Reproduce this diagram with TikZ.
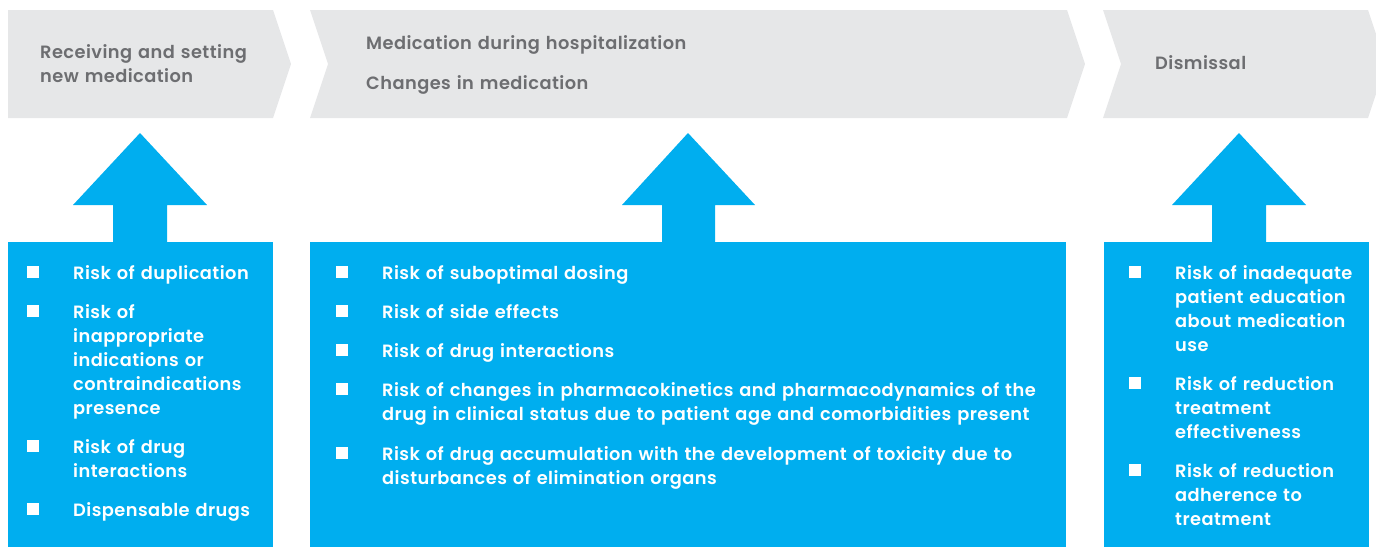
\documentclass[tikz,border=0pt]{standalone}
\usepackage{fontspec}
\setmainfont{Poppins}[UprightFont=* SemiBold, BoldFont=* Bold, LetterSpace=2.5]
\usetikzlibrary{positioning}
\definecolor{riskblue}{HTML}{00AEEF}
\definecolor{stagegray}{HTML}{E6E7E8}
\definecolor{stagetext}{HTML}{6D6E71}
\tikzset{
  stage/.style={fill=stagegray},
  riskbox/.style={fill=riskblue},
  stagelabel/.style={anchor=base west, inner sep=0pt, text=stagetext,
    font=\fontsize{17.8}{24}\selectfont, text width=330pt, align=left},
  risklabel/.style={anchor=base west, inner sep=0pt, text=white,
    font=\fontsize{17.8}{24}\selectfont, text width=700pt, align=left},
  bullet/.style={fill=white, inner sep=0pt, minimum size=12pt, anchor=south west}
}
\begin{document}
\begin{tikzpicture}[x=1pt,y=-1pt]
\useasboundingbox (0,0) rectangle (1376,547);
% stages
\fill[stage] (8,10) -- (273,10) -- (291,64) -- (273,118) -- (8,118) -- cycle;
\fill[stage] (310,10) -- (1067,10) -- (1085,64) -- (1067,118) -- (310,118) -- (328,64) -- cycle;
\fill[stage] (1103,10) -- (1368,10) -- (1376,34) -- (1376,94) -- (1368,118) -- (1103,118) -- (1121,64) -- cycle;
\node[stagelabel] (s1) at (40,58) {Receiving and setting\\new medication};
\node[stagelabel] (s2a) at (366,49) {Medication during hospitalization};
\node[stagelabel] (s2b) at (366,89) {Changes in medication};
\node[stagelabel] (s3) at (1155,69) {Dismissal};
% arrows
\fill[riskbox] (140,133) -- (207,205) -- (167,205) -- (167,243) -- (113,243) -- (113,205) -- (73,205) -- cycle;
\fill[riskbox] (688,133) -- (755,205) -- (715,205) -- (715,243) -- (662,243) -- (662,205) -- (622,205) -- cycle;
\fill[riskbox] (1239,133) -- (1306,205) -- (1266,205) -- (1266,243) -- (1212,243) -- (1212,205) -- (1172,205) -- cycle;
% boxes
\fill[riskbox] (8,242) rectangle (273,547);
\fill[riskbox] (310,242) rectangle (1066,547);
\fill[riskbox] (1104,242) rectangle (1369,547);
% first box
\node[bullet] (b11) at (27,278) {};
\node[risklabel] (r11) at (73,279) {Risk of duplication};
\node[bullet] (b12) at (27,317) {};
\node[risklabel] (r12) at (73,318) {Risk of\\inappropriate\\indications or\\contraindications\\presence};
\node[bullet] (b13) at (27,452) {};
\node[risklabel] (r13) at (73,453) {Risk of drug\\interactions};
\node[bullet] (b14) at (27,515) {};
\node[risklabel] (r14) at (73,516) {Dispensable drugs};
% second box
\node[bullet] (b21) at (336,278) {};
\node[risklabel] (r21) at (382,279) {Risk of suboptimal dosing};
\node[bullet] (b22) at (336,317) {};
\node[risklabel] (r22) at (382,318) {Risk of side effects};
\node[bullet] (b23) at (336,356) {};
\node[risklabel] (r23) at (382,357) {Risk of drug interactions};
\node[bullet] (b24) at (336,395) {};
\node[risklabel] (r24) at (382,396) {Risk of changes in pharmacokinetics and pharmacodynamics of the\\drug in clinical status due to patient age and comorbidities present};
\node[bullet] (b25) at (336,459) {};
\node[risklabel] (r25) at (382,460) {Risk of drug accumulation with the development of toxicity due to\\disturbances of elimination organs};
% third box
\node[bullet] (b31) at (1129,278) {};
\node[risklabel] (r31) at (1175,279) {Risk of inadequate\\patient education\\about medication\\use};
\node[bullet] (b32) at (1129,389) {};
\node[risklabel] (r32) at (1175,390) {Risk of reduction\\treatment\\effectiveness};
\node[bullet] (b33) at (1129,476) {};
\node[risklabel] (r33) at (1175,477) {Risk of reduction\\adherence to\\treatment};
\end{tikzpicture}
\end{document}
